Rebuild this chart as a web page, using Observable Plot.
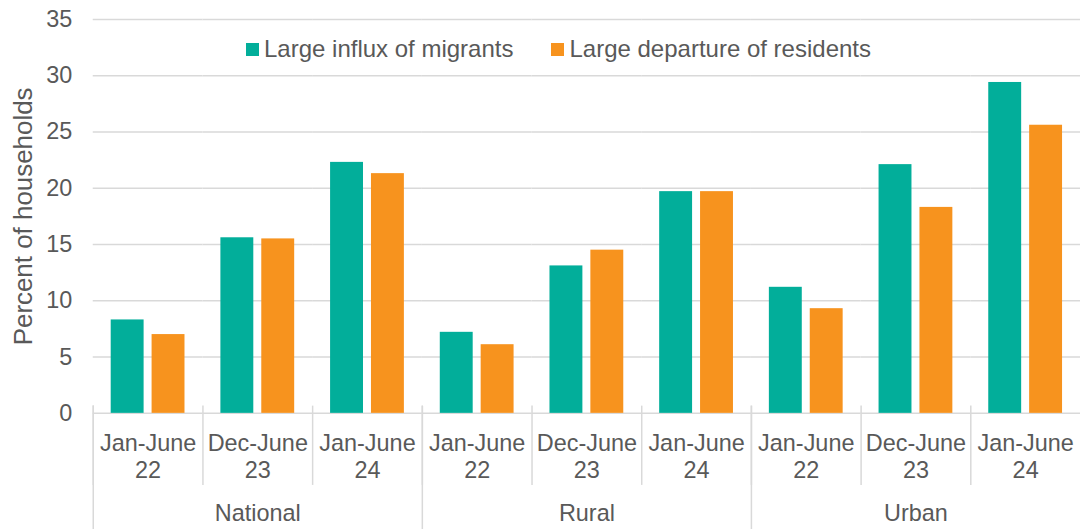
<!DOCTYPE html>
<html>
<head>
<meta charset="utf-8">
<script src="https://cdn.jsdelivr.net/npm/d3@7"></script>
<script src="https://cdn.jsdelivr.net/npm/@observablehq/plot@0.6"></script>
<style>
  html, body { margin: 0; padding: 0; background: #fff; overflow: hidden; }
  #wrap { position: relative; width: 1080px; height: 529px; font-family: "Liberation Sans", Arial, sans-serif; }
  #legend { position: absolute; left: 246px; top: 37px; display: flex; align-items: center; font-size: 24px; line-height: 24px; color: #595959; white-space: nowrap; }
  #legend .item { display: flex; align-items: center; margin-right: 38px; }
  #legend .sw { width: 13px; height: 13px; margin-right: 5px; display: inline-block; }
</style>
</head>
<body>
<div id="wrap"><div id="chart"></div><div id="legend"></div></div>
<script>
const regions = ["National", "Rural", "Urban"];
const periods = ["Jan-June 22", "Dec-June 23", "Jan-June 24"];
const periodLabels = ["Jan-June\n22", "Dec-June\n23", "Jan-June\n24"];
const series = ["Large influx of migrants", "Large departure of residents"];
const colors = ["#02ae9a", "#f7931e"];
// values in order National(3 periods), Rural(3), Urban(3)
const influx = [8.3, 15.6, 22.3, 7.2, 13.1, 19.7, 11.2, 22.1, 29.4];
const departure = [7.0, 15.5, 21.3, 6.1, 14.5, 19.7, 9.3, 18.3, 25.6];
const yTicks = [0, 5, 10, 15, 20, 25, 30, 35];
const yLabel = "Percent of households";

const cats = [];
regions.forEach((r, i) => periods.forEach((p, j) => cats.push({key: r + "|" + p, region: r, label: periodLabels[j], idx: i * 3 + j})));
const keys = cats.map(d => d.key);
const rows = [];
cats.forEach(c => {
  rows.push({key: c.key, series: series[0], value: influx[c.idx]});
  rows.push({key: c.key, series: series[1], value: departure[c.idx]});
});
const groupLabels = regions.map((r, i) => ({key: keys[i * 3 + 1], text: r}));
const groupStarts = regions.map((r, i) => keys[i * 3]);

const font = "\"Liberation Sans\", Arial, sans-serif";
const grey = "#595959";
const lineCol = "#d9d9d9";

const chart = Plot.plot({
  width: 1083,
  height: 529,
  marginLeft: 93,
  marginRight: 0,
  marginTop: 19,
  marginBottom: 115,
  style: {fontFamily: font, color: grey, background: "white", overflow: "visible"},
  fx: {domain: keys, padding: 0, axis: null},
  x: {domain: series, paddingInner: 0.19, paddingOuter: 0.405, axis: null},
  y: {domain: [0, 35], axis: null},
  color: {domain: series, range: colors},
  marks: [
    Plot.gridY(yTicks, {stroke: lineCol, strokeOpacity: 1, strokeWidth: 1.5}),
    Plot.axisY(yTicks, {tickSize: 0, tickPadding: 21, fontSize: 23.5, fill: grey, label: null}),
    Plot.barY(rows, {fx: "key", x: "series", y: "value", fill: "series"}),
    Plot.frame({anchor: "left", stroke: lineCol, strokeWidth: 1.5, insetTop: 388, insetBottom: -71}),
    ...groupStarts.map(k => Plot.frame({fx: () => k, anchor: "left", stroke: lineCol, strokeWidth: 1.5, insetTop: 388, insetBottom: -120})),
    Plot.text(cats, {fx: "key", text: "label", frameAnchor: "bottom", lineAnchor: "top", dy: 18, lineHeight: 1.17, fontSize: 23.5, fill: grey}),
    Plot.text(groupLabels, {fx: "key", text: "text", frameAnchor: "bottom", lineAnchor: "top", dy: 91, fontSize: 23.5, fill: grey}),
    Plot.text([{key: keys[0], text: yLabel}], {fx: "key", text: "text", frameAnchor: "left", textAnchor: "middle", rotate: -90, dx: -70, fontSize: 26, fill: grey})
  ]
});
document.getElementById("chart").appendChild(chart);

const legend = document.getElementById("legend");
series.forEach((s, i) => {
  const item = document.createElement("span");
  item.className = "item";
  const sw = document.createElement("span");
  sw.className = "sw";
  sw.style.background = colors[i];
  item.appendChild(sw);
  item.appendChild(document.createTextNode(s));
  legend.appendChild(item);
});
</script>
</body>
</html>
